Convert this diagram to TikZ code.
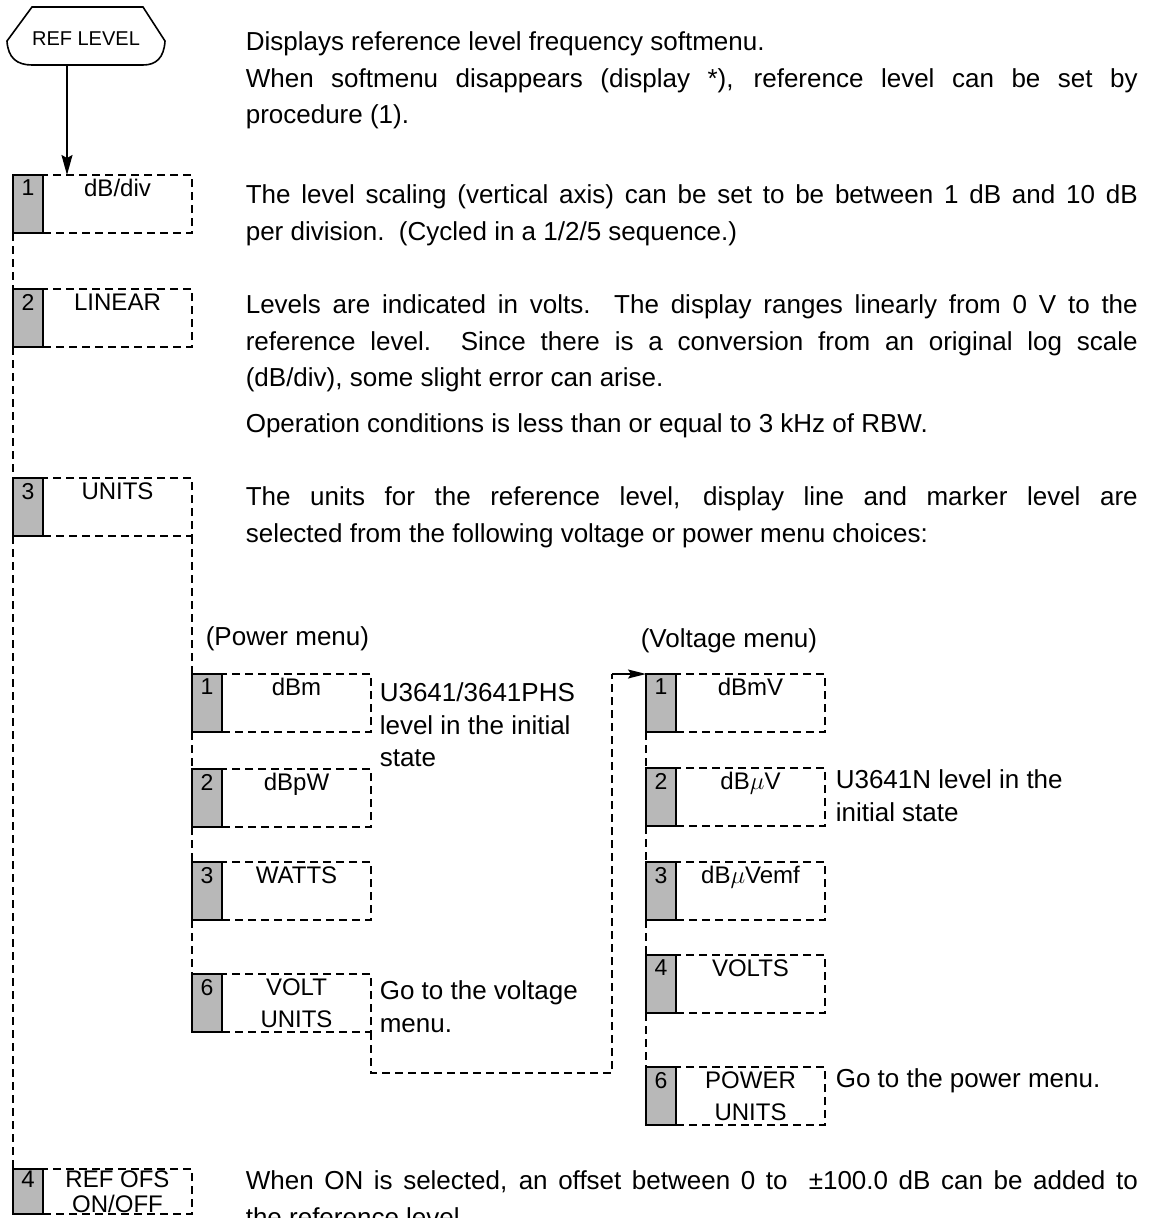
\documentclass[tikz,border=0pt]{standalone}
\usepackage{fontspec}
\setmainfont{Liberation Sans}
\usetikzlibrary{arrows.meta,positioning}
\tikzset{
  keydash/.style={dash pattern=on 8pt off 5pt},
  keybox/.style={rectangle, draw, keydash, anchor=north west, inner sep=0pt, outer sep=0pt,
                 minimum width=149pt, minimum height=58pt, align=center,
                 font=\fontsize{24}{32}\selectfont},
  numbox/.style={rectangle, draw, solid, fill=black!28, inner sep=0pt, outer sep=0pt,
                 minimum width=30pt, minimum height=58pt, align=center,
                 font=\fontsize{23}{32}\selectfont},
  shortkey/.style={minimum height=45pt, font=\fontsize{24}{25}\selectfont},
  hwkey/.style={rectangle, inner sep=0pt, minimum width=158pt, minimum height=52pt,
                font=\fontsize{20}{24}\selectfont},
  bodytext/.style={anchor=north west, inner sep=0pt, text width=892pt, align=justify,
                   font=\fontsize{26}{36.5}\selectfont},
  sidenote/.style={anchor=north west, inner sep=0pt, align=left,
                   font=\fontsize{26}{32.5}\selectfont},
  keylink/.style={keydash},
  flow/.style={-{Stealth[length=20pt,width=11pt,inset=3pt]}, solid},
  flowsmall/.style={-{Stealth[length=18pt,width=9pt,inset=3pt]}, solid},
}
\begin{document}
\begin{tikzpicture}[x=1pt, y=-1pt, line width=1.6pt]
  \useasboundingbox (0,0) rectangle (1153,1218);

  % hard key
  \node[hwkey] (reflevel) at (86,39) {REF LEVEL};
  \draw (32,7) -- (143,7) -- (165,41) .. controls (164,58) and (156,65) .. (143,65)
        -- (32,65) .. controls (17,65) and (8,58) .. (7,41) -- cycle;
  \coordinate (arrx) at (67,0);

  % reference level softmenu
  \node[keybox] (r1) at (43,175) {dB/div\\\mbox{}};
  \node[numbox, left=0pt of r1] (r1n) {1\\\mbox{}};
  \node[keybox] (r2) at (43,289) {LINEAR\\\mbox{}};
  \node[numbox, left=0pt of r2] (r2n) {2\\\mbox{}};
  \node[keybox] (r3) at (43,478) {UNITS\\\mbox{}};
  \node[numbox, left=0pt of r3] (r3n) {3\\\mbox{}};
  \node[keybox, shortkey] (r4) at (43,1169) {REF OFS\\ON/OFF};
  \node[numbox, shortkey, left=0pt of r4] (r4n) {4\\\mbox{}};

  % power menu
  \node[sidenote] (ptitle) at (205,626) {(Power menu)};
  \node[keybox] (p1) at (222,674) {dBm\\\mbox{}};
  \node[numbox, left=0pt of p1] (p1n) {1\\\mbox{}};
  \node[keybox] (p2) at (222,769) {dBpW\\\mbox{}};
  \node[numbox, left=0pt of p2] (p2n) {2\\\mbox{}};
  \node[keybox] (p3) at (222,862) {WATTS\\\mbox{}};
  \node[numbox, left=0pt of p3] (p3n) {3\\\mbox{}};
  \node[keybox] (p6) at (222,974) {VOLT\\UNITS};
  \node[numbox, left=0pt of p6] (p6n) {6\\\mbox{}};
  \node[sidenote] (p1note) at ([xshift=8pt, yshift=-8pt]p1.north east)
    {U3641/3641PHS\\level in the initial\\state};
  \node[sidenote] (p6note) at ([xshift=8pt, yshift=-6pt]p6.north east)
    {Go to the voltage\\menu.};

  % voltage menu
  \node[sidenote] (vtitle) at (640,628) {(Voltage menu)};
  \node[keybox] (v1) at (676,674) {dBmV\\\mbox{}};
  \node[numbox, left=0pt of v1] (v1n) {1\\\mbox{}};
  \node[keybox] (v2) at (676,768) {dB$\mu$V\\\mbox{}};
  \node[numbox, left=0pt of v2] (v2n) {2\\\mbox{}};
  \node[keybox] (v3) at (676,862) {dB$\mu$Vemf\\\mbox{}};
  \node[numbox, left=0pt of v3] (v3n) {3\\\mbox{}};
  \node[keybox] (v4) at (676,955) {VOLTS\\\mbox{}};
  \node[numbox, left=0pt of v4] (v4n) {4\\\mbox{}};
  \node[keybox] (v6) at (676,1067) {POWER\\UNITS};
  \node[numbox, left=0pt of v6] (v6n) {6\\\mbox{}};
  \node[sidenote] (v2note) at ([xshift=10pt, yshift=-1pt]v2.north east)
    {U3641N level in the\\initial state};
  \node[sidenote] (v6note) at ([xshift=10pt, yshift=-1pt]v6.north east)
    {Go to the power menu.};

  % explanations
  \node[bodytext] (t0) at (245,31) {Displays reference level frequency softmenu.\\
    When softmenu disappears (display *), reference level can be set by\linebreak
    procedure (1).};
  \node[bodytext] (t1) at (245,184) {The level scaling (vertical axis) can be set to be
    between 1 dB and 10 dB\linebreak per division.\ \ (Cycled in a 1/2/5 sequence.)};
  \node[bodytext] (t2) at (245,294) {Levels are indicated in volts.\ \ The display ranges
    linearly from 0 V to the\linebreak reference level.\ \ Since there is a conversion
    from an original log scale\linebreak (dB/div), some slight error can arise.\\[9pt]
    Operation conditions is less than or equal to 3 kHz of RBW.};
  \node[bodytext] (t3) at (245,486) {The units for the reference level, display line and
    marker level are\linebreak selected from the following voltage or power menu choices:};
  \node[bodytext] (t4) at (245,1170) {When ON is selected, an offset between 0 to \ ±100.0 dB
    can be added to\linebreak the reference level.};

  % connectors
  \draw[flow] (reflevel.south -| arrx) -- (r1.north -| arrx);
  \draw[keylink] (r1n.south west) -- (r2n.north west);
  \draw[keylink] (r2n.south west) -- (r3n.north west);
  \draw[keylink] (r3n.south west) -- (r4n.north west);
  \draw[keylink] (r3.south east) -- (p1n.north west);
  \draw[keylink] (p1n.south west) -- (p2n.north west);
  \draw[keylink] (p2n.south west) -- (p3n.north west);
  \draw[keylink] (p3n.south west) -- (p6n.north west);
  \coordinate (turn) at (612,1073);
  \draw[keylink] (p6.south east) |- (turn) -- (turn |- v1n.north west) coordinate (vin);
  \draw[flowsmall] (vin) -- (v1n.north west);
  \draw[keylink] (v1n.south west) -- (v2n.north west);
  \draw[keylink] (v2n.south west) -- (v3n.north west);
  \draw[keylink] (v3n.south west) -- (v4n.north west);
  \draw[keylink] (v4n.south west) -- (v6n.north west);
\end{tikzpicture}
\end{document}
